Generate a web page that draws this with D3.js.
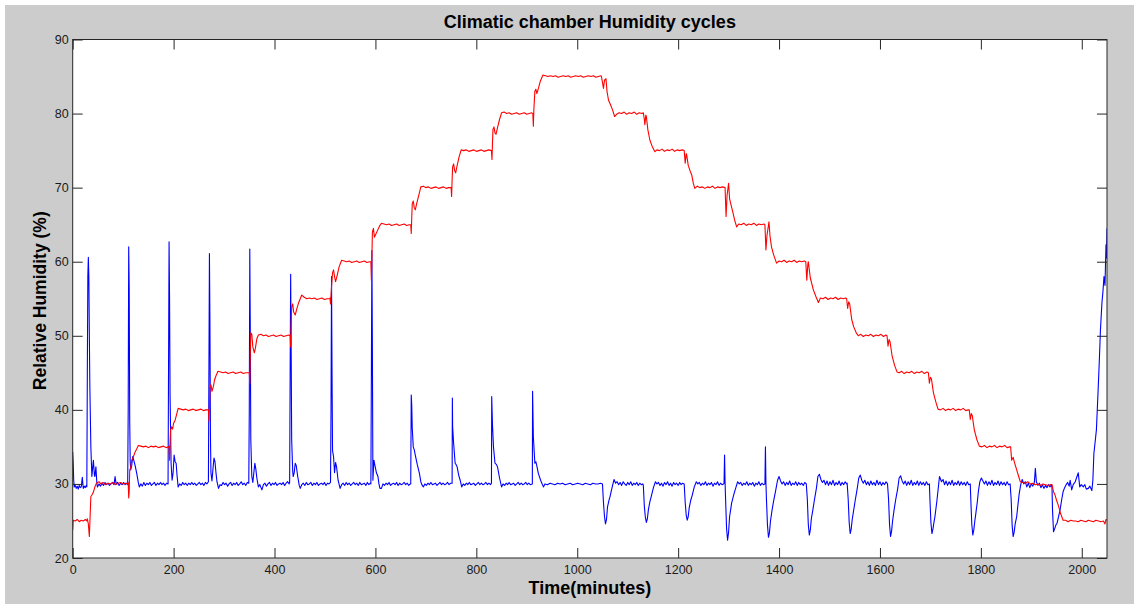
<!DOCTYPE html>
<html>
<head>
<meta charset="utf-8">
<script src="https://cdn.jsdelivr.net/npm/d3@7"></script>
<style>
html,body{margin:0;padding:0;background:#ffffff;}
svg{display:block;}
text{font-family:"Liberation Sans",Arial,Helvetica,sans-serif;}
</style>
</head>
<body>
<svg id="chart" width="1134" height="604"></svg>
<script>
// ---- chart text ----
const chartTitle = "Climatic chamber Humidity cycles";
const xLabel = "Time(minutes)";
const yLabel = "Relative Humidity (%)";

// ---- ticks ----
const xTicks = [0,200,400,600,800,1000,1200,1400,1600,1800,2000];
const yTicks = [20,30,40,50,60,70,80,90];
const xDomain = [0,2050];
const yDomain = [20,90];

// ---- red series: [time (min), RH (%)] ----
const redSeries = [
[0,23.8],[1,25.1],[5,25.0],[9,25.2],[13,24.9],[17,25.1],[21,25.0],[25,25.2],[28,25.0],[29,25.3],[31,24.6],[33,22.9],[35,26.5],[36,28.3],[39,28.6],[41,28.9],[44,29.6],[47,30.1],[52,30.3],[56,30.0],[60,30.2],[65,29.9],[70,30.1],[75,30.0],[80,30.2],[85,29.9],[90,30.1],[95,30.2],[100,30.0],[105,30.1],[109,30.0],[110,30.2],[111,28.1],[112,29.0],[113,31.9],[115,32.2],[117,33.2],[120,33.6],[123,34.2],[126,34.6],[130,35.2],[135,35.1],[140,35.0],[145,35.1],[150,34.9],[155,35.1],[160,35.0],[165,35.1],[170,34.9],[175,35.0],[180,35.1],[185,34.9],[190,35.0],[191,35.1],[192,33.2],[193,35.5],[194,37.3],[196,37.7],[198,37.4],[200,38.2],[203,38.6],[206,39.4],[209,40.2],[214,40.1],[219,40.0],[224,40.1],[229,39.9],[234,40.0],[239,40.1],[244,39.9],[249,40.0],[254,40.1],[259,39.9],[264,40.0],[269,40.0],[270,38.5],[271,40.5],[272,43.0],[274,43.4],[276,42.5],[279,43.2],[281,44.0],[284,44.6],[288,45.2],[293,45.1],[298,45.0],[303,45.1],[308,44.9],[313,45.0],[318,45.1],[323,44.9],[328,45.0],[333,45.1],[338,44.9],[343,45.0],[348,45.0],[350,45.0],[351,43.5],[352,47.5],[353,50.4],[355,50.2],[357,48.5],[360,47.7],[362,48.3],[365,49.6],[368,50.1],[373,50.2],[378,50.0],[383,50.1],[388,49.9],[393,50.0],[398,50.1],[403,49.9],[408,50.0],[413,50.1],[418,49.9],[423,50.0],[428,50.1],[431,50.0],[432,48.5],[433,51.5],[434,53.9],[436,54.3],[438,53.2],[441,52.8],[444,53.6],[448,54.5],[454,55.5],[459,55.2],[464,55.0],[469,55.1],[474,55.0],[479,55.1],[484,54.9],[489,55.0],[494,55.1],[499,54.9],[504,55.0],[509,55.0],[510,55.1],[511,54.3],[513,56.6],[515,58.5],[517,58.9],[519,58.0],[521,57.3],[524,58.1],[528,59.3],[533,60.2],[538,60.1],[543,60.0],[548,60.1],[553,59.9],[558,60.0],[563,60.1],[568,59.9],[573,60.0],[578,60.1],[583,59.9],[588,60.0],[591,60.0],[592,57.5],[593,60.5],[594,64.0],[596,64.5],[598,63.3],[600,63.6],[604,64.2],[608,64.8],[612,65.2],[617,65.1],[622,65.0],[627,65.1],[632,64.9],[637,65.0],[642,65.1],[647,64.9],[652,65.0],[657,65.1],[662,64.9],[667,65.0],[670,65.0],[671,63.8],[672,66.0],[673,67.8],[675,68.2],[677,67.3],[679,67.0],[682,67.9],[686,69.0],[690,70.1],[695,70.2],[700,70.0],[705,70.1],[710,69.9],[715,70.0],[720,70.1],[725,69.9],[730,70.0],[735,70.1],[740,69.9],[745,70.0],[750,70.0],[751,68.8],[752,71.0],[753,72.8],[755,73.2],[757,72.3],[759,72.0],[762,73.0],[766,74.2],[770,75.1],[775,75.0],[780,75.1],[785,74.9],[790,75.0],[795,75.1],[800,74.9],[805,75.0],[810,75.1],[815,74.9],[820,75.0],[825,75.1],[830,75.0],[831,73.8],[832,76.0],[833,77.9],[835,78.2],[837,77.4],[839,77.2],[842,78.1],[846,79.2],[850,80.1],[855,80.2],[860,80.0],[865,80.1],[870,79.9],[875,80.0],[880,80.1],[885,79.9],[890,80.0],[895,80.1],[900,79.9],[905,80.0],[910,80.1],[912,80.0],[913,78.3],[914,80.5],[916,83.0],[918,83.3],[920,82.7],[923,83.4],[927,84.4],[932,85.2],[937,85.1],[942,85.0],[947,85.1],[952,85.0],[957,85.1],[962,84.9],[967,85.0],[972,85.1],[977,85.0],[982,85.1],[987,84.9],[992,85.0],[997,85.1],[1002,85.0],[1007,85.1],[1012,84.9],[1017,85.0],[1022,85.1],[1027,85.0],[1032,85.1],[1037,84.9],[1042,85.0],[1047,85.1],[1048,85.0],[1050,84.2],[1052,83.4],[1054,84.5],[1057,84.7],[1059,83.0],[1062,81.8],[1066,81.2],[1070,80.5],[1074,79.6],[1078,79.9],[1083,80.1],[1088,80.0],[1093,80.2],[1098,79.9],[1103,80.1],[1108,80.0],[1113,80.2],[1118,79.9],[1123,80.1],[1128,80.0],[1131,80.1],[1133,79.2],[1134,78.5],[1136,79.8],[1137,79.6],[1140,77.8],[1144,76.4],[1149,75.5],[1154,74.85],[1158,75.1],[1163,75.0],[1168,75.2],[1173,74.9],[1178,75.1],[1183,75.0],[1188,75.2],[1193,74.9],[1198,75.1],[1203,75.0],[1208,75.1],[1212,75.0],[1214,73.3],[1216,74.6],[1217,74.4],[1220,73.0],[1224,72.2],[1227,71.7],[1230,70.6],[1233,69.9],[1238,70.2],[1243,70.0],[1248,70.1],[1253,69.9],[1258,70.1],[1263,70.0],[1268,70.2],[1273,69.9],[1278,70.1],[1283,70.0],[1288,70.1],[1293,70.0],[1295,66.1],[1297,69.0],[1300,70.6],[1302,68.5],[1304,67.9],[1308,66.8],[1312,65.6],[1316,64.7],[1320,65.1],[1325,65.0],[1330,65.2],[1335,64.9],[1340,65.1],[1345,65.0],[1350,65.2],[1355,64.9],[1360,65.1],[1365,65.0],[1370,65.1],[1372,65.0],[1374,61.6],[1376,63.5],[1380,65.4],[1382,63.5],[1385,62.0],[1389,61.0],[1395,59.8],[1400,60.1],[1405,60.0],[1410,60.2],[1415,59.9],[1420,60.1],[1425,60.0],[1430,60.2],[1435,59.9],[1440,60.1],[1445,60.0],[1450,60.1],[1453,60.0],[1455,57.5],[1457,59.6],[1458,60.0],[1462,57.8],[1468,56.2],[1473,55.3],[1478,54.5],[1482,55.1],[1487,55.0],[1492,55.2],[1497,54.9],[1502,55.1],[1507,55.0],[1512,55.2],[1517,54.9],[1522,55.1],[1527,55.0],[1532,55.1],[1534,55.0],[1536,53.7],[1538,54.6],[1540,54.3],[1544,52.2],[1548,51.2],[1553,50.4],[1557,50.0],[1562,50.2],[1567,49.9],[1572,50.1],[1577,50.0],[1582,50.2],[1587,49.9],[1592,50.1],[1597,50.0],[1602,50.2],[1607,49.9],[1612,50.1],[1614,50.0],[1616,48.6],[1618,49.5],[1620,49.2],[1624,47.3],[1629,46.0],[1634,45.1],[1638,45.0],[1643,45.2],[1648,44.9],[1653,45.1],[1658,45.0],[1663,45.2],[1668,44.9],[1673,45.1],[1678,45.0],[1683,45.2],[1688,44.9],[1693,45.1],[1696,45.0],[1698,43.6],[1700,44.4],[1702,44.2],[1706,42.3],[1711,41.0],[1715,40.1],[1720,40.0],[1725,40.2],[1730,39.9],[1735,40.1],[1740,40.0],[1745,40.2],[1750,39.9],[1755,40.1],[1760,40.0],[1765,40.2],[1770,39.9],[1775,40.0],[1777,40.0],[1779,38.7],[1781,39.5],[1783,39.2],[1787,37.3],[1792,36.0],[1797,35.1],[1802,35.0],[1807,35.2],[1812,34.9],[1817,35.1],[1822,35.0],[1827,35.2],[1832,34.9],[1837,35.1],[1842,35.0],[1847,35.2],[1852,34.9],[1857,35.0],[1859,35.0],[1861,33.2],[1864,33.6],[1867,32.8],[1871,31.9],[1875,31.0],[1878,30.3],[1883,30.2],[1888,30.1],[1893,30.3],[1898,30.0],[1903,30.1],[1908,29.9],[1913,30.0],[1918,29.8],[1923,30.0],[1928,29.9],[1933,29.8],[1938,29.9],[1941,29.9],[1944,28.95],[1947,28.5],[1950,27.8],[1954,27.0],[1958,26.0],[1963,25.1],[1968,25.1],[1973,24.9],[1978,25.1],[1983,25.0],[1988,25.0],[1993,24.9],[1998,25.1],[2003,25.0],[2008,24.9],[2013,25.1],[2018,25.0],[2023,24.9],[2028,25.1],[2033,25.0],[2038,24.9],[2043,25.0],[2046,24.6],[2048,25.2],[2050,25.1]
];

// ---- blue series: [time (min), RH (%)] ----
const blueSeries = [
[0,34.3],[1,32.8],[2,30.5],[3,29.6],[5,29.8],[7,29.4],[9,29.7],[11,29.3],[13,29.8],[15,29.5],[17,29.6],[19,30.9],[21,29.4],[23,29.7],[25,29.5],[27,29.8],[28,29.6],
[29,44.9],[30,58.0],[31,60.6],[32,58.0],[33,50.0],[34,43.1],[36,35.0],[38,31.0],[40,32.5],[41,33.2],[43,31.2],[44,31.0],[46,32.3],[48,30.0],[49,29.6],
[52,30.0],[55,29.7],[58,30.1],[61,29.8],[64,30.2],[67,29.9],[70,30.1],[73,29.8],[76,30.0],[79,30.2],[82,29.9],[84,31.0],[86,30.0],[89,30.2],[92,29.8],[95,30.1],[98,29.9],[101,30.2],[104,29.9],[107,30.1],[109,29.9],
[110,40.0],[111,62.0],[112,56.2],[113,38.6],[114,33.0],[115,31.9],[117,32.5],[119,33.7],[121,33.2],[124,32.4],[127,31.4],[130,30.2],[132,29.6],
[135,30.0],[138,29.7],[141,30.2],[144,29.8],[147,30.1],[150,29.9],[153,30.2],[156,29.8],[159,30.0],[162,30.2],[165,29.8],[168,30.1],[171,29.9],[174,30.2],[177,29.9],[180,30.1],[183,29.8],[186,30.1],[189,30.0],
[190,46.3],[191,62.7],[192,55.0],[193,41.8],[195,32.8],[197,30.5],[199,31.5],[201,33.9],[203,33.0],[205,32.8],[207,31.0],[209,29.6],
[212,30.0],[215,29.8],[218,30.2],[221,29.9],[224,30.1],[227,29.8],[230,30.1],[233,29.9],[236,30.2],[239,29.9],[242,30.1],[245,29.8],[248,30.0],[251,30.2],[254,29.9],[257,30.1],[260,29.8],[263,30.2],[266,30.0],[269,30.3],
[270,45.8],[271,61.1],[272,52.0],[273,36.6],[274,31.5],[276,30.4],[278,32.0],[280,33.5],[282,33.0],[284,31.5],[286,30.3],[289,29.4],[292,29.9],
[295,29.8],[298,30.2],[301,29.9],[304,30.1],[307,29.7],[310,30.0],[313,30.2],[316,29.8],[319,30.1],[322,29.9],[325,30.2],[328,29.8],[331,30.0],[334,30.3],[337,29.9],[340,30.1],[343,29.8],[346,30.2],[349,30.1],
[350,40.0],[351,61.7],[352,50.5],[353,36.0],[355,31.0],[357,30.2],[359,31.5],[361,32.8],[363,32.0],[365,30.8],[368,29.6],[371,29.9],[375,29.2],
[378,29.9],[381,30.1],[384,29.7],[387,30.0],[390,30.2],[393,29.8],[396,30.1],[399,29.9],[402,30.2],[405,29.8],[408,30.0],[411,30.1],[414,29.9],[417,30.2],[420,29.8],[423,30.1],[426,30.3],[429,30.0],[430,30.2],
[431,45.0],[432,58.3],[433,48.0],[434,36.0],[436,31.8],[437,31.0],[439,31.5],[441,32.8],[443,32.5],[446,31.0],[449,29.8],[451,29.4],
[454,29.9],[457,30.1],[460,29.8],[463,30.2],[466,29.9],[469,30.0],[472,30.2],[475,29.8],[478,30.1],[481,29.9],[484,30.2],[487,29.8],[490,30.0],[493,30.1],[496,29.9],[499,30.2],[502,29.8],[505,30.1],[508,30.0],[511,30.2],
[512,40.0],[513,58.0],[514,45.0],[515,34.5],[517,33.7],[519,31.5],[521,32.9],[523,32.3],[526,30.5],[530,29.4],
[533,29.9],[536,30.1],[539,29.8],[542,30.2],[545,29.9],[548,30.1],[551,29.8],[554,30.0],[557,30.2],[560,29.9],[563,30.1],[566,29.8],[569,30.2],[572,29.9],[575,30.0],[578,30.1],[581,29.8],[584,30.2],[587,29.9],[590,30.1],[591,30.0],
[592,45.0],[593,61.5],[594,48.0],[595,30.5],[597,33.2],[599,32.5],[602,31.5],[605,31.0],[607,30.0],[609,29.4],[612,29.4],
[615,30.0],[618,29.8],[621,30.1],[624,29.9],[627,30.2],[630,29.8],[633,30.0],[636,30.1],[639,29.9],[642,30.2],[645,29.8],[648,30.1],[651,29.9],[654,30.0],[657,30.2],[660,29.9],[663,30.1],[666,29.8],[669,30.0],[670,30.0],
[671,42.0],[672,40.6],[673,37.5],[675,35.0],[677,34.6],[679,33.9],[683,32.6],[687,31.5],[690,30.3],[692,29.9],[695,29.6],
[698,30.0],[701,29.8],[704,30.1],[707,29.9],[710,30.2],[713,29.9],[716,30.0],[719,30.1],[722,29.8],[725,30.0],[728,30.2],[731,29.9],[734,30.1],[737,29.9],[740,30.0],[743,30.2],[746,29.9],[749,30.1],[752,30.1],
[752.5,41.6],[753,37.7],[755,35.5],[758,32.8],[760,32.6],[762,32.3],[765,31.2],[768,30.5],[771,29.6],
[774,30.0],[777,29.8],[780,30.1],[783,29.9],[786,30.2],[789,29.9],[792,30.0],[795,30.1],[798,29.8],[801,30.0],[804,30.2],[807,29.9],[810,30.1],[813,29.9],[816,30.0],[819,30.2],[822,29.9],[825,30.1],[828,29.9],[830,30.1],
[830.5,41.8],[832,38.0],[834,35.0],[837,32.8],[840,32.6],[842,32.3],[846,30.8],[850,29.6],
[853,30.0],[856,29.8],[859,30.1],[862,29.9],[865,30.2],[868,29.9],[871,30.0],[874,30.1],[877,29.8],[880,30.0],[883,30.2],[886,29.9],[889,30.1],[892,29.9],[895,30.0],[898,30.2],[901,29.9],[904,30.1],[907,29.9],[911,30.0],
[911.5,42.5],[913,36.4],[916,32.8],[918,33.0],[920,32.4],[923,31.4],[928,30.4],[933,29.6],
[936,30.0],[941,29.9],[946,30.1],[951,30.0],[956,29.9],[961,30.1],[966,30.0],[971,30.1],[976,29.9],[981,30.0],[986,30.1],[991,29.9],[996,30.0],[1001,30.1],[1006,30.0],[1011,29.9],[1016,30.1],[1021,30.0],[1026,29.9],[1031,30.1],[1036,30.0],[1041,30.0],[1046,30.1],[1050,30.0],
[1052,27.5],[1054,25.6],[1056,24.6],[1058,25.2],[1060,26.9],[1063,27.8],[1065,28.3],[1069,29.5],[1073,30.6],[1076,30.1],[1079,30.3],
[1082,29.9],[1085,30.2],[1088,29.8],[1091,30.3],[1094,30.0],[1097,29.8],[1100,30.2],[1103,29.9],[1106,30.3],[1109,29.8],[1112,30.1],[1115,29.9],[1118,30.2],[1121,29.8],[1124,30.1],[1127,29.9],[1130,30.0],
[1131,29.8],[1133,27.0],[1135,25.5],[1137,24.8],[1139,25.3],[1141,26.5],[1144,27.6],[1147,28.4],[1151,29.5],[1155,30.3],[1158,30.0],
[1161,30.2],[1164,29.8],[1167,30.1],[1170,29.7],[1173,30.2],[1176,29.9],[1179,30.3],[1182,29.8],[1185,30.1],[1188,29.7],[1191,30.2],[1194,29.9],[1197,30.1],[1200,29.8],[1203,30.2],[1206,29.9],[1209,30.1],[1212,30.0],
[1214,27.5],[1216,25.8],[1218,25.1],[1220,25.6],[1222,26.8],[1225,27.8],[1228,28.5],[1232,29.6],[1236,30.3],[1239,30.0],
[1242,30.2],[1245,29.8],[1248,30.1],[1251,29.9],[1254,30.3],[1257,29.8],[1260,30.1],[1263,29.9],[1266,30.2],[1269,29.7],[1272,30.1],[1275,29.9],[1278,30.3],[1281,29.8],[1284,30.1],[1287,29.9],[1290,30.0],[1291,30.1],
[1292,33.9],[1293,30.2],[1294,28.0],[1296,24.0],[1298,22.4],[1300,23.5],[1302,25.6],[1304,26.5],[1306,27.4],[1310,28.5],[1313,29.2],[1318,30.3],[1321,30.0],
[1324,30.2],[1327,29.8],[1330,30.1],[1333,29.9],[1336,30.3],[1339,29.8],[1342,30.1],[1345,29.9],[1348,30.2],[1351,29.7],[1354,30.1],[1357,29.9],[1360,30.3],[1363,29.8],[1366,30.1],[1369,29.9],[1372,30.0],
[1373,35.0],[1374,30.1],[1375,28.0],[1377,24.5],[1379,22.8],[1381,23.4],[1383,25.0],[1386,26.4],[1389,27.6],[1393,29.0],[1397,30.5],[1400,31.0],[1403,30.4],
[1406,30.0],[1409,30.3],[1412,29.8],[1415,30.2],[1418,29.9],[1421,30.4],[1424,29.8],[1427,30.1],[1430,29.9],[1433,30.3],[1436,29.8],[1439,30.2],[1442,29.9],[1445,30.1],[1448,29.8],[1451,30.2],[1454,30.0],
[1456,28.0],[1458,24.5],[1460,23.1],[1462,23.8],[1464,25.3],[1467,26.5],[1470,27.8],[1474,29.4],[1477,31.0],[1480,31.3],[1483,30.6],[1486,30.2],
[1489,30.5],[1492,29.9],[1495,30.4],[1498,29.8],[1501,30.3],[1504,29.9],[1507,30.5],[1510,29.8],[1513,30.2],[1516,29.9],[1519,30.4],[1522,29.8],[1525,30.2],[1528,29.9],[1531,30.3],[1534,30.0],[1535,30.1],
[1537,28.0],[1539,24.8],[1541,23.3],[1543,23.9],[1545,25.2],[1548,26.5],[1551,27.8],[1555,29.4],[1558,30.8],[1561,31.2],[1564,30.5],
[1567,30.1],[1570,30.5],[1573,29.9],[1576,30.3],[1579,29.8],[1582,30.4],[1585,29.9],[1588,30.2],[1591,29.8],[1594,30.5],[1597,29.9],[1600,30.3],[1603,29.8],[1606,30.2],[1609,29.9],[1612,30.3],[1615,30.0],
[1617,28.0],[1619,24.5],[1621,22.9],[1623,23.6],[1625,25.0],[1628,26.5],[1631,27.8],[1635,29.3],[1638,30.8],[1641,31.1],[1644,30.4],
[1647,30.0],[1650,30.4],[1653,29.8],[1656,30.3],[1659,29.9],[1662,30.5],[1665,29.8],[1668,30.2],[1671,29.9],[1674,30.4],[1677,29.8],[1680,30.3],[1683,29.9],[1686,30.2],[1689,29.8],[1692,30.3],[1695,29.9],[1698,30.0],
[1699,28.0],[1701,24.8],[1703,23.3],[1705,23.9],[1707,24.8],[1709,25.6],[1713,27.8],[1718,31.0],[1722,30.3],[1725,30.6],
[1728,29.9],[1731,30.4],[1734,29.8],[1737,30.3],[1740,29.9],[1743,30.5],[1746,29.8],[1749,30.2],[1752,29.9],[1755,30.4],[1758,29.8],[1761,30.3],[1764,29.9],[1767,30.2],[1770,29.8],[1773,30.3],[1776,29.9],[1779,30.0],
[1780,28.0],[1782,24.6],[1784,23.1],[1786,23.8],[1788,25.0],[1790,26.0],[1793,27.6],[1795,28.95],[1798,30.3],[1801,30.8],[1804,30.4],
[1807,30.0],[1810,30.4],[1813,29.8],[1816,30.3],[1819,29.9],[1822,30.5],[1825,29.8],[1828,30.2],[1831,29.9],[1834,30.4],[1837,29.8],[1840,30.3],[1843,29.9],[1846,30.2],[1849,29.8],[1852,30.3],[1855,29.9],[1858,30.0],
[1860,28.0],[1862,24.4],[1864,22.9],[1866,23.5],[1868,24.6],[1871,25.6],[1874,27.5],[1876,28.7],[1879,29.9],[1882,30.6],
[1885,30.0],[1888,30.3],[1891,29.6],[1894,30.1],[1897,29.5],[1900,30.0],[1903,29.7],[1906,30.2],[1908,32.1],[1910,30.3],[1913,29.8],[1916,30.1],[1919,29.5],[1922,29.9],[1925,29.4],[1928,29.8],[1931,29.5],[1934,29.9],[1937,29.6],[1940,29.9],
[1941,29.5],[1942,26.5],[1944,23.55],[1946,23.9],[1949,24.5],[1951,24.7],[1954,25.6],[1957,26.5],[1960,27.8],[1963,28.95],[1966,29.5],[1969,29.9],[1972,30.2],[1975,29.7],[1977,30.5],[1980,29.2],[1983,29.9],[1987,30.3],[1990,30.9],[1993,31.5],[1996,29.6],[1999,29.9],[2003,29.6],[2006,29.9],[2009,29.3],[2013,29.4],[2016,29.7],[2020,29.1],[2022,30.5],[2024,34.1],[2027,36.0],[2029,37.3],[2032,42.0],[2035,47.0],[2037,50.8],[2040,54.5],[2042,56.0],[2044,58.0],[2046,56.8],[2048,62.3],[2049,60.5],[2050,64.5]
];

// ---- drawing ----
const W = 1134, H = 604;
const plot = {left: 72.7, right: 1107, top: 39.5, bottom: 558};

const svg = d3.select("#chart");

svg.append("rect").attr("x", 5).attr("y", 5).attr("width", W - 5).attr("height", H - 5).attr("fill", "#cccccc");

const x = d3.scaleLinear().domain(xDomain).range([plot.left, plot.right]);
const y = d3.scaleLinear().domain(yDomain).range([plot.bottom, plot.top]);

svg.append("rect")
  .attr("x", plot.left).attr("y", plot.top)
  .attr("width", plot.right - plot.left).attr("height", plot.bottom - plot.top)
  .attr("fill", "#ffffff");

svg.append("defs").append("clipPath").attr("id", "clip")
  .append("rect")
  .attr("x", plot.left).attr("y", plot.top)
  .attr("width", plot.right - plot.left).attr("height", plot.bottom - plot.top);

const line = d3.line().x(d => x(d[0])).y(d => y(d[1]));

const lines = svg.append("g").attr("clip-path", "url(#clip)");
lines.append("path").datum(blueSeries)
  .attr("d", line).attr("fill", "none").attr("stroke", "#0000ff").attr("stroke-width", 1.1)
  .attr("stroke-linejoin", "round");
lines.append("path").datum(redSeries)
  .attr("d", line).attr("fill", "none").attr("stroke", "#ff0000").attr("stroke-width", 1.1)
  .attr("stroke-linejoin", "round");

const tickLen = 10;
const axisColor = "#262626";

function styleAxis(g, showLabels) {
  g.select(".domain").remove();
  g.selectAll(".tick line").attr("stroke", axisColor).attr("stroke-width", 1);
  g.selectAll(".tick text")
    .attr("fill", "#1a1a1a")
    .style("font-family", "'Liberation Sans', Arial, sans-serif")
    .style("font-size", "12.5px");
  if (!showLabels) g.selectAll(".tick text").remove();
}

svg.append("g").attr("transform", `translate(0,${plot.bottom})`)
  .call(d3.axisBottom(x).tickValues(xTicks).tickSize(-tickLen).tickPadding(7).tickFormat(d3.format("d")))
  .call(g => styleAxis(g, true));
svg.append("g").attr("transform", `translate(0,${plot.top})`)
  .call(d3.axisTop(x).tickValues(xTicks).tickSize(-tickLen))
  .call(g => styleAxis(g, false));
svg.append("g").attr("transform", `translate(${plot.left},0)`)
  .call(d3.axisLeft(y).tickValues(yTicks).tickSize(-tickLen).tickPadding(4).tickFormat(d3.format("d")))
  .call(g => styleAxis(g, true));
svg.append("g").attr("transform", `translate(${plot.right},0)`)
  .call(d3.axisRight(y).tickValues(yTicks).tickSize(-tickLen))
  .call(g => styleAxis(g, false));

svg.append("rect")
  .attr("x", plot.left).attr("y", plot.top)
  .attr("width", plot.right - plot.left).attr("height", plot.bottom - plot.top)
  .attr("fill", "none").attr("stroke", axisColor).attr("stroke-width", 1);

const cx = (plot.left + plot.right) / 2;
svg.append("text").attr("x", cx).attr("y", 28)
  .attr("text-anchor", "middle").attr("font-weight", "bold").attr("font-size", "18px").attr("fill", "#000")
  .text(chartTitle);
svg.append("text").attr("x", cx).attr("y", 594)
  .attr("text-anchor", "middle").attr("font-weight", "bold").attr("font-size", "18px").attr("fill", "#000")
  .text(xLabel);
svg.append("text").attr("transform", `translate(46,${(plot.top + plot.bottom) / 2 + 2}) rotate(-90)`)
  .attr("text-anchor", "middle").attr("font-weight", "bold").attr("font-size", "17.5px").attr("fill", "#000")
  .text(yLabel);
</script>
</body>
</html>
